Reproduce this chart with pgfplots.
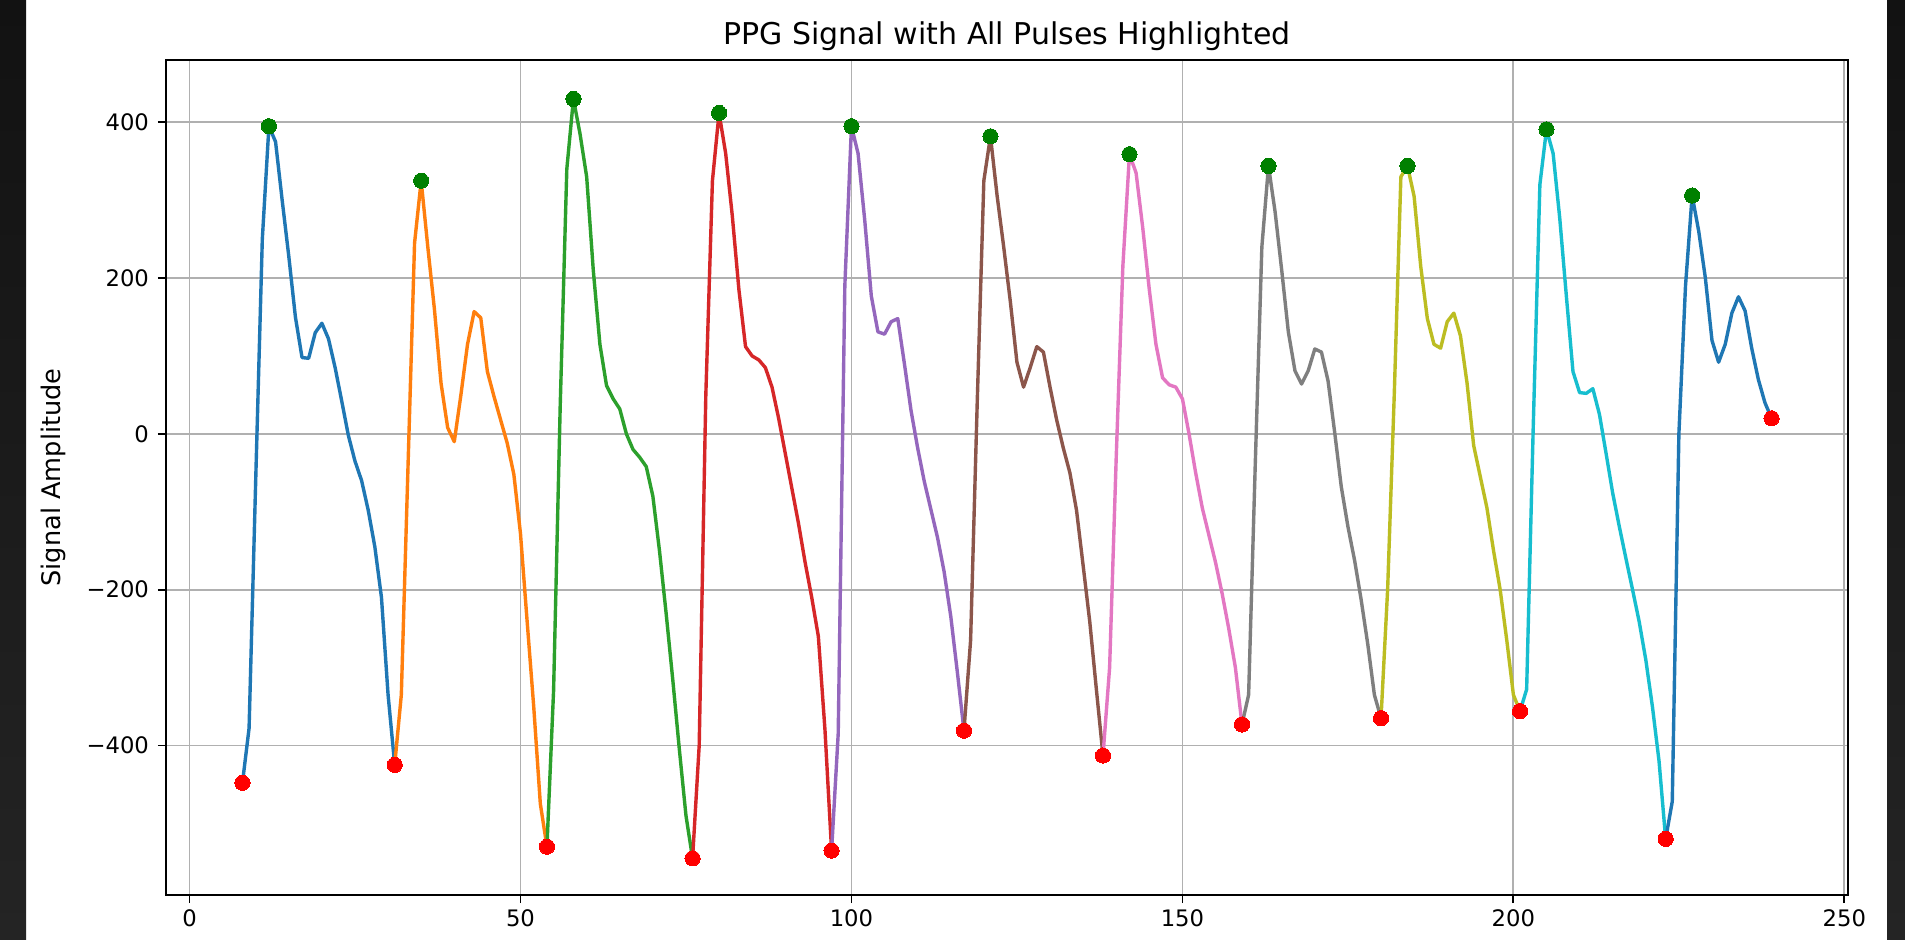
\documentclass[border=0pt]{standalone}
\usepackage{pgfplots}
\pgfplotsset{compat=1.18}
\usepackage{fontspec}
\setmainfont{DejaVu Sans}
\definecolor{c0}{HTML}{1F77B4}
\definecolor{c1}{HTML}{FF7F0E}
\definecolor{c2}{HTML}{2CA02C}
\definecolor{c3}{HTML}{D62728}
\definecolor{c4}{HTML}{9467BD}
\definecolor{c5}{HTML}{8C564B}
\definecolor{c6}{HTML}{E377C2}
\definecolor{c7}{HTML}{7F7F7F}
\definecolor{c8}{HTML}{BCBD22}
\definecolor{c9}{HTML}{17BECF}
\definecolor{gridc}{HTML}{B0B0B0}
\definecolor{mkgreen}{HTML}{008000}
\definecolor{mkred}{HTML}{FF0000}
\definecolor{darktop}{HTML}{121212}
\definecolor{darkbot}{HTML}{242424}
\begin{document}
\begin{tikzpicture}
\useasboundingbox (0,0) rectangle (952.5pt,469.5pt);
\fill[white] (0,0) rectangle (952.5pt,469.5pt);
\shade[top color=darktop, bottom color=darkbot] (0,0) rectangle (13pt,469.5pt);
\shade[top color=darktop, bottom color=darkbot] (943.5pt,0) rectangle (952.5pt,469.5pt);
\begin{axis}[
  at={(83pt,22pt)}, anchor=south west,
  scale only axis, width=841pt, height=417.5pt,
  xmin=-3.55, xmax=250.55, ymin=-592, ymax=480,
  xtick={0,50,100,150,200,250},
  xticklabels={0,50,100,150,200,250},
  ytick={-400,-200,0,200,400},
  yticklabels={−400,−200,0,200,400},
  tick align=outside, tick pos=left,
  major tick length=4pt,
  every tick/.style={black, line width=0.91pt},
  axis line style={line width=0.91pt},
  grid=major,
  grid style={color=gridc, line width=0.91pt},
  ticklabel style={font=\fontsize{11.35}{13.6}\selectfont},
  yticklabel style={xshift=-1pt},
  title={PPG Signal with All Pulses Highlighted},
  every axis title/.style={at={(0.5,1)}, anchor=base, yshift=7.5pt, font=\fontsize{15}{18}\selectfont},
  ylabel={Signal Amplitude},
  ylabel style={at={(axis description cs:-0.0669,0.5)}, anchor=center, font=\fontsize{12.8}{15}\selectfont},
  every axis plot/.append style={line width=1.7pt, line join=round},
]
\addplot[c0, mark=none] coordinates {(8,-448)(9,-378)(10,-60)(11,250)(12,395)(13,375)(14,300)(15,228)(16,150)(17,98)(18,97)(19,130)(20,142)(21,122)(22,85)(23,42)(24,-2)(25,-35)(26,-60)(27,-98)(28,-145)(29,-210)(30,-335)(31,-425)};
\addplot[c1, mark=none] coordinates {(31,-425)(32,-335)(33,-45)(34,245)(35,325)(36,240)(37,160)(38,65)(39,8)(40,-10)(41,50)(42,115)(43,157)(44,149)(45,80)(46,48)(47,18)(48,-12)(49,-52)(50,-128)(51,-240)(52,-350)(53,-475)(54,-530)};
\addplot[c2, mark=none] coordinates {(54,-530)(55,-330)(56,35)(57,340)(58,430)(59,385)(60,330)(61,210)(62,115)(63,62)(64,45)(65,32)(66,0)(67,-20)(68,-30)(69,-42)(70,-80)(71,-150)(72,-230)(73,-315)(74,-405)(75,-490)(76,-545)};
\addplot[c3, mark=none] coordinates {(76,-545)(77,-400)(78,50)(79,325)(80,412)(81,360)(82,280)(83,185)(84,112)(85,100)(86,95)(87,85)(88,60)(89,20)(90,-25)(91,-70)(92,-115)(93,-165)(94,-210)(95,-260)(96,-380)(97,-535)};
\addplot[c4, mark=none] coordinates {(97,-535)(98,-385)(99,190)(100,395)(101,360)(102,275)(103,177)(104,131)(105,128)(106,144)(107,148)(108,90)(109,30)(110,-18)(111,-61)(112,-97)(113,-133)(114,-177)(115,-234)(116,-306)(117,-381)};
\addplot[c5, mark=none] coordinates {(117,-381)(118,-265)(119,40)(120,325)(121,382)(122,306)(123,240)(124,170)(125,92)(126,60)(127,85)(128,112)(129,105)(130,60)(131,18)(132,-18)(133,-50)(134,-98)(135,-169)(136,-241)(137,-328)(138,-413)};
\addplot[c6, mark=none] coordinates {(138,-413)(139,-300)(140,-30)(141,215)(142,359)(143,335)(144,265)(145,185)(146,115)(147,72)(148,63)(149,60)(150,45)(151,0)(152,-50)(153,-95)(154,-130)(155,-165)(156,-205)(157,-250)(158,-300)(159,-373)};
\addplot[c7, mark=none] coordinates {(159,-373)(160,-335)(161,-40)(162,240)(163,344)(164,285)(165,210)(166,131)(167,81)(168,64)(169,81)(170,109)(171,105)(172,68)(173,2)(174,-68)(175,-119)(176,-162)(177,-213)(178,-270)(179,-335)(180,-365)};
\addplot[c8, mark=none] coordinates {(180,-365)(181,-200)(182,50)(183,330)(184,344)(185,305)(186,215)(187,148)(188,115)(189,110)(190,144)(191,155)(192,126)(193,65)(194,-15)(195,-55)(196,-95)(197,-150)(198,-200)(199,-265)(200,-335)(201,-356)};
\addplot[c9, mark=none] coordinates {(201,-356)(202,-328)(203,10)(204,320)(205,391)(206,360)(207,277)(208,177)(209,80)(210,53)(211,52)(212,58)(213,25)(214,-25)(215,-76)(216,-119)(217,-160)(218,-200)(219,-241)(220,-290)(221,-350)(222,-420)(223,-520)};
\addplot[c0, mark=none] coordinates {(223,-520)(224,-472)(225,0)(226,190)(227,306)(228,260)(229,200)(230,120)(231,92)(232,115)(233,155)(234,176)(235,158)(236,110)(237,70)(238,40)(239,20)};
\addplot[only marks, mark=*, mark size=3.8pt, mark options={fill=mkgreen, draw=mkgreen, line width=0pt}] coordinates {(12,395)(35,325)(58,430)(80,412)(100,395)(121,382)(142,359)(163,344)(184,344)(205,391)(227,306)};
\addplot[only marks, mark=*, mark size=3.8pt, mark options={fill=mkred, draw=mkred, line width=0pt}] coordinates {(8,-448)(31,-425)(54,-530)(76,-545)(97,-535)(117,-381)(138,-413)(159,-373)(180,-365)(201,-356)(223,-520)(239,20)};
\end{axis}
\end{tikzpicture}
\end{document}
